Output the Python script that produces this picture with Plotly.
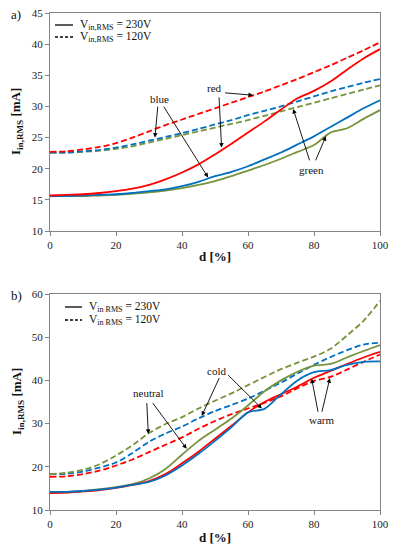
import plotly.graph_objects as go

# ---------------- data ----------------
d = [0, 5, 10, 15, 20, 25, 30, 35, 40, 45, 50, 55, 60, 65, 70, 75, 80, 85, 90, 95, 100]

# a) colours red / blue / green
a_red_230 = [15.7, 15.8, 15.9, 16.1, 16.4, 16.8, 17.4, 18.3, 19.4, 20.7, 22.3, 24.0, 25.8, 27.6, 29.5, 31.3, 32.5, 34.0, 35.9, 37.7, 39.2]
a_blue_230 = [15.6, 15.6, 15.7, 15.8, 15.9, 16.1, 16.4, 16.7, 17.2, 17.9, 18.8, 19.5, 20.4, 21.5, 22.6, 23.9, 25.2, 26.7, 28.2, 29.7, 31.0]
a_green_230 = [15.6, 15.6, 15.6, 15.7, 15.8, 16.0, 16.2, 16.5, 16.9, 17.4, 18.0, 18.8, 19.7, 20.6, 21.6, 22.7, 23.8, 25.8, 26.5, 28.0, 29.4]
a_red_120 = [22.7, 22.8, 23.1, 23.5, 24.1, 25.0, 26.0, 27.0, 27.9, 28.8, 29.7, 30.6, 31.5, 32.4, 33.4, 34.4, 35.5, 36.6, 37.8, 39.0, 40.3]
a_blue_120 = [22.6, 22.6, 22.8, 23.0, 23.4, 23.9, 24.5, 25.1, 25.7, 26.4, 27.1, 27.8, 28.6, 29.3, 30.0, 30.8, 31.6, 32.4, 33.1, 33.8, 34.4]
a_green_120 = [22.6, 22.6, 22.7, 22.9, 23.2, 23.6, 24.2, 24.8, 25.4, 26.0, 26.6, 27.2, 27.8, 28.5, 29.2, 29.9, 30.6, 31.3, 32.0, 32.7, 33.4]

# b) white tones warm / neutral / cold
b_red_230 = [13.9, 14.0, 14.3, 14.6, 15.1, 15.8, 16.7, 18.3, 20.8, 23.5, 26.5, 29.5, 32.6, 35.0, 36.8, 38.6, 40.6, 42.2, 43.8, 45.3, 46.6]
b_blue_230 = [14.2, 14.2, 14.4, 14.7, 15.2, 15.8, 16.5, 18.0, 20.3, 23.0, 26.0, 29.2, 32.6, 33.4, 36.8, 40.0, 41.9, 42.4, 43.6, 44.3, 44.4]
b_green_230 = [14.0, 14.1, 14.4, 14.8, 15.3, 16.0, 17.3, 19.5, 22.8, 26.0, 28.6, 31.2, 34.2, 37.5, 40.0, 42.0, 43.4, 43.8, 45.3, 46.8, 48.2]
b_red_120 = [17.7, 17.8, 18.3, 19.1, 20.3, 21.7, 23.4, 25.1, 26.8, 28.8, 30.6, 32.2, 33.5, 34.8, 36.3, 38.2, 39.9, 40.8, 42.5, 44.3, 46.0]
b_blue_120 = [18.3, 18.4, 18.9, 19.8, 21.0, 23.2, 25.8, 27.7, 29.3, 31.2, 32.9, 34.3, 35.8, 37.6, 39.5, 41.6, 43.6, 45.4, 47.0, 48.3, 48.7]
b_green_120 = [18.3, 18.6, 19.3, 20.6, 22.6, 25.0, 27.8, 29.9, 31.5, 33.5, 35.3, 37.0, 38.9, 40.8, 42.6, 44.1, 45.5, 47.3, 50.4, 53.8, 58.4]

x_ticks = [0, 20, 40, 60, 80, 100]
a_y_ticks = [10, 15, 20, 25, 30, 35, 40, 45]
b_y_ticks = [10, 20, 30, 40, 50, 60]

RED = "#FF0000"
BLUE = "#0070C0"
GREEN = "#77933C"
FONT = "Liberation Serif"
W, H = 394, 550


def fx(px):
    return px / W


def fy(py):
    return 1 - py / H


fig = go.Figure()


def add(x, y, color, dash, xa, ya):
    fig.add_trace(go.Scatter(
        x=x, y=y, mode="lines", xaxis=xa, yaxis=ya, showlegend=False,
        line=dict(color=color, width=1.8, dash=dash, shape="spline", smoothing=0.8),
        hoverinfo="skip"))


DASH = "6px,3px"
for ys, c in [(a_green_120, GREEN), (a_blue_120, BLUE), (a_red_120, RED)]:
    add(d, ys, c, DASH, "x", "y")
for ys, c in [(a_green_230, GREEN), (a_blue_230, BLUE), (a_red_230, RED)]:
    add(d, ys, c, "solid", "x", "y")
for ys, c in [(b_red_120, RED), (b_blue_120, BLUE), (b_green_120, GREEN)]:
    add(d, ys, c, DASH, "x2", "y2")
for ys, c in [(b_green_230, GREEN), (b_red_230, RED), (b_blue_230, BLUE)]:
    add(d, ys, c, "solid", "x2", "y2")

axis_common = dict(
    showline=True, linecolor="#858585", linewidth=1, mirror=True,
    ticks="outside", ticklen=4, tickcolor="#858585", showgrid=False, zeroline=False,
    tickfont=dict(family=FONT, size=11, color="#222"), automargin=False,
)

xdom = [fx(50), fx(380)]
fig.update_layout(
    width=W, height=H, margin=dict(l=0, r=0, t=0, b=0),
    paper_bgcolor="white", plot_bgcolor="white", showlegend=False,
    font=dict(family=FONT),
    xaxis=dict(domain=xdom, anchor="y", range=[0, 100], tickvals=x_ticks, **axis_common),
    yaxis=dict(domain=[fy(231), fy(13)], anchor="x", range=[10, 45], tickvals=a_y_ticks, **axis_common),
    xaxis2=dict(domain=xdom, anchor="y2", range=[0, 100], tickvals=x_ticks, **axis_common),
    yaxis2=dict(domain=[fy(510), fy(294)], anchor="x2", range=[10, 60], tickvals=b_y_ticks, **axis_common),
)

ann = []
shapes = []

# axis titles
for py in (256, 537):
    ann.append(dict(text="<b>d [%]</b>", x=fx(215), y=fy(py), xref="paper", yref="paper",
                    xanchor="center", yanchor="middle", showarrow=False,
                    font=dict(family=FONT, size=13, color="#111")))
for py in (122, 402):
    ann.append(dict(text="<b>I<sub>in,RMS</sub> [mA]</b>", x=fx(17), y=fy(py), xref="paper", yref="paper",
                    xanchor="center", yanchor="middle", showarrow=False, textangle=-90,
                    font=dict(family=FONT, size=13, color="#111")))

# panel letters
for txt, py in [("a)", 15), ("b)", 295)]:
    ann.append(dict(text=txt, x=fx(9), y=fy(py), xref="paper", yref="paper", xanchor="left",
                    yanchor="middle", showarrow=False, font=dict(family=FONT, size=13, color="#111")))


# manual legends
def legend(x0, x1, ya, yb, tx, label_sub):
    shapes.append(dict(type="line", xref="paper", yref="paper", x0=fx(x0), x1=fx(x1), y0=fy(ya), y1=fy(ya),
                       line=dict(color="black", width=1.3)))
    shapes.append(dict(type="line", xref="paper", yref="paper", x0=fx(x0), x1=fx(x1), y0=fy(yb), y1=fy(yb),
                       line=dict(color="black", width=1.3, dash="3px,2px")))
    for py, v in [(ya, "230V"), (yb, "120V")]:
        ann.append(dict(text=f"V<sub>{label_sub}</sub> = {v}", x=fx(tx), y=fy(py), xref="paper", yref="paper",
                        xanchor="left", yanchor="middle", showarrow=False,
                        font=dict(family=FONT, size=11.5, color="#111")))


legend(55, 73, 25, 37, 78, "in,RMS")
legend(65, 82, 307, 320, 87, "in RMS")

# labels with arrows (data coordinates)
labels = [
    ("blue", 33.3, 31.2, [(32.7, 30.2, 31.8, 25.0), (34.2, 30.2, 47.9, 18.6)], ("x", "y")),
    ("red", 49.7, 33.0, [(52.6, 32.2, 61.5, 31.8), (51.2, 31.7, 52.0, 23.4)], ("x", "y")),
    ("green", 79.3, 19.8, [(78.8, 21.1, 73.7, 29.6), (80.3, 21.1, 83.6, 25.2)], ("x", "y")),
    ("neutral", 29.8, 37.2, [(29.3, 35.1, 29.8, 27.6), (30.8, 35.1, 41.4, 24.2)], ("x2", "y2")),
    ("cold", 50.5, 42.2, [(51.5, 40.9, 46.0, 31.8), (53.5, 41.6, 64.2, 33.5)], ("x2", "y2")),
    ("warm", 82.3, 30.8, [(81.3, 32.4, 79.3, 40.4), (82.3, 32.4, 84.8, 40.5)], ("x2", "y2")),
]
for txt, x, y, arrows, (xa, ya) in labels:
    ann.append(dict(text=txt, x=x, y=y, xref=xa, yref=ya, showarrow=False,
                    font=dict(family=FONT, size=11, color="#111")))
    for tx0, ty0, tx1, ty1 in arrows:
        ann.append(dict(text="", x=tx1, y=ty1, xref=xa, yref=ya, ax=tx0, ay=ty0, axref=xa, ayref=ya,
                        showarrow=True, arrowhead=2, arrowsize=1, arrowwidth=0.9, arrowcolor="black",
                        standoff=0, startstandoff=0))

fig.update_layout(annotations=ann, shapes=shapes)
fig.write_html(
    "out.html",
    config={"displayModeBar": False},
    post_script="document.body.style.margin='0';document.body.style.overflow='hidden';",
)
